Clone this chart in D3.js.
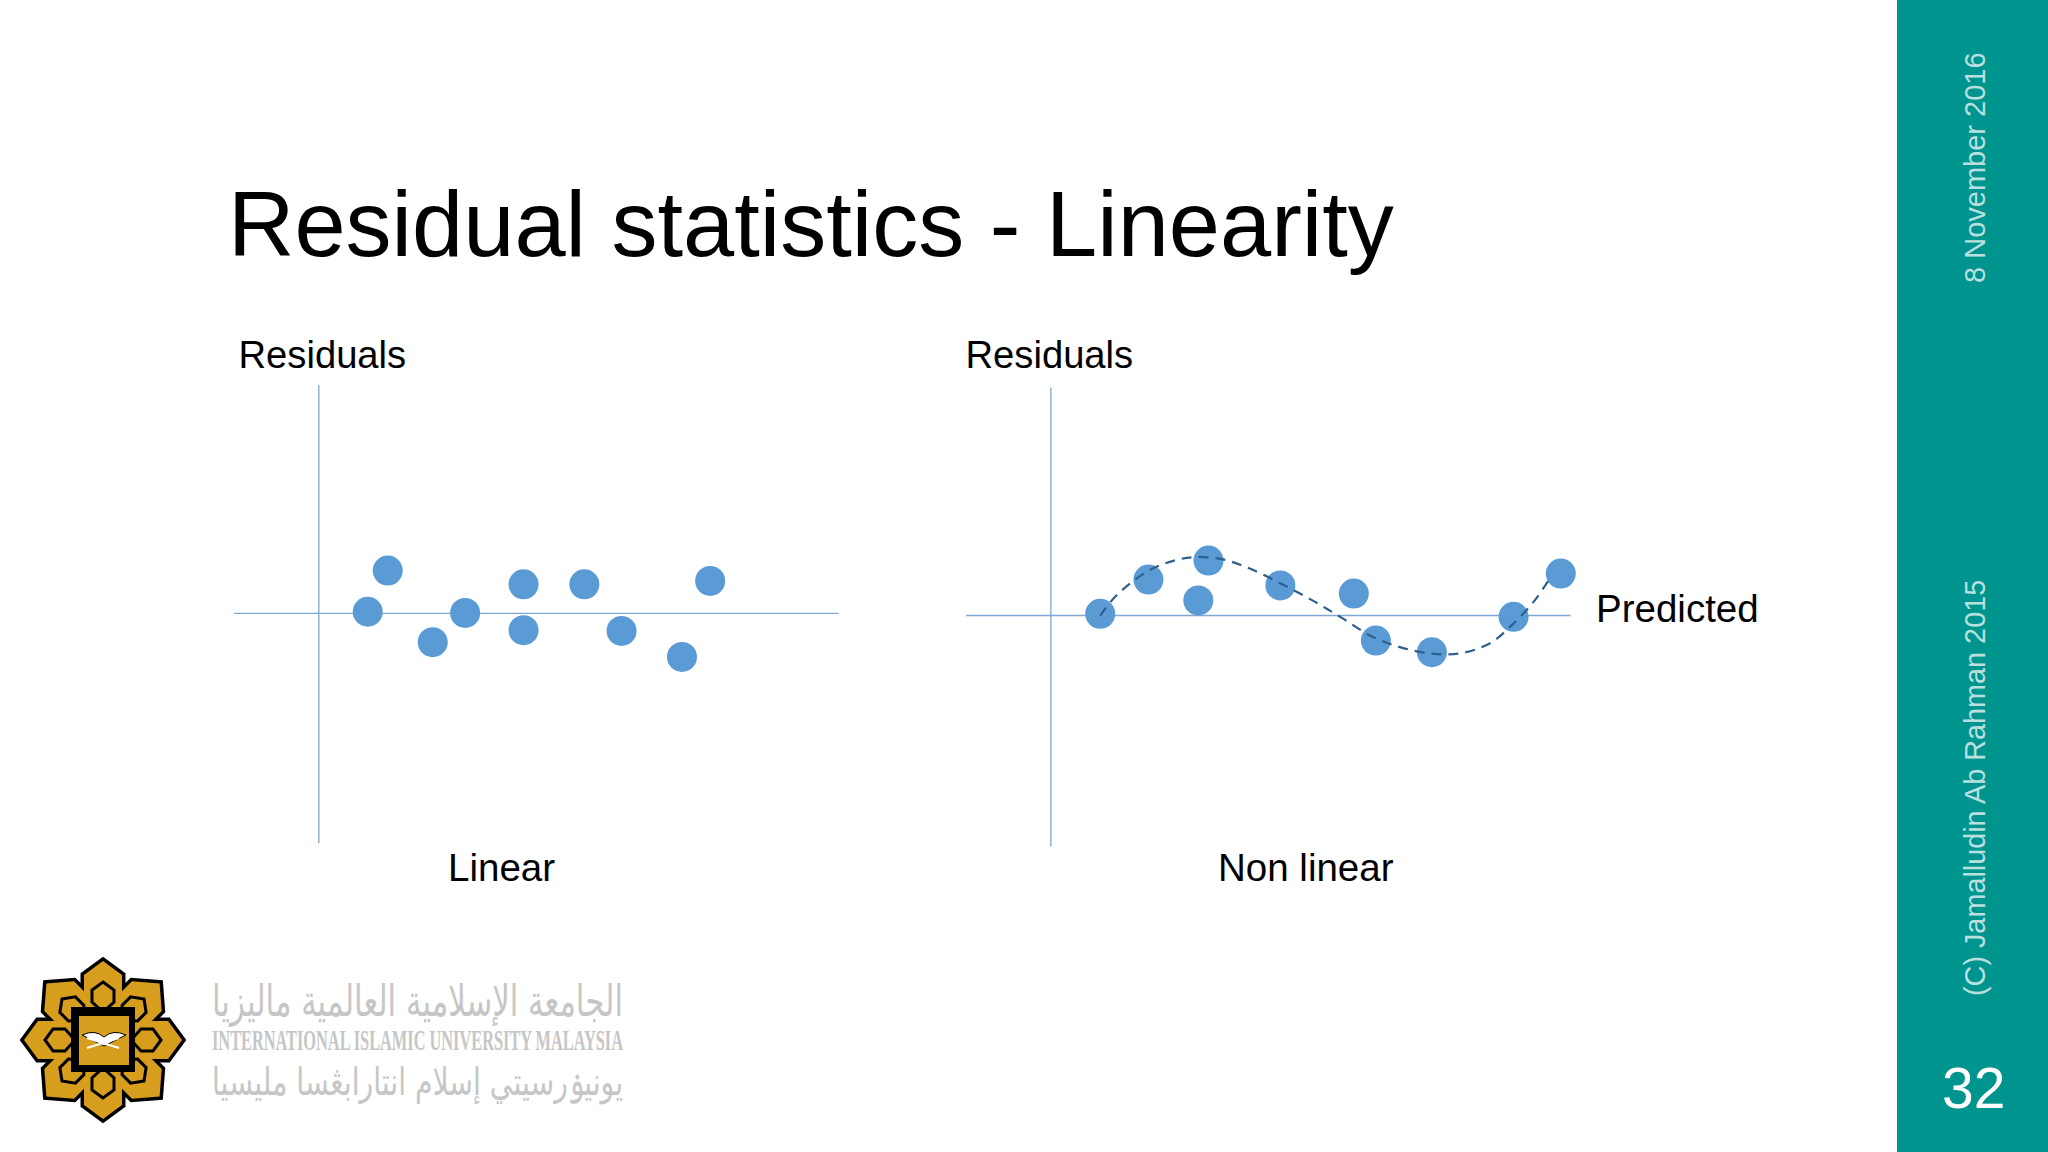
<!DOCTYPE html>
<html><head><meta charset="utf-8">
<script src="https://cdnjs.cloudflare.com/ajax/libs/d3/7.8.5/d3.min.js"></script>
<style>html,body{margin:0;padding:0;background:#fff}svg{display:block}text{font-family:"Liberation Sans",Arial,sans-serif}</style>
</head><body><svg id="c" width="2048" height="1152"></svg>
<script>
const linearX=[17.35,12.35,28.6,36.7,51.3,51.3,66.5,75.8,90.9,97.95];
const linearY=[10.6,0.3,-7.3,0,7.15,-4.3,7.15,-4.5,-11,8];
const nonLinearX=[12.45,24.5,36.95,39.5,57.45,75.8,81.3,95.3,115.7,127.5];
const nonLinearY=[0.3,8.85,3.65,13.6,7.4,5.35,-6.4,-9.3,-0.45,10.35];
const curveX=[12.45,16.3,24.4,31.1,36.4,43.1,49.8,57.9,65.9,72.6,80.6,88.6,96.7,103.4,110.1,115.4,120.8,124.8];
const curveY=[-0.2,4.7,11,13.65,14.5,13.9,11.6,7.7,3.4,-0.6,-5.5,-8.4,-9.8,-9.4,-6.9,-2.4,3.4,9.2];
const titleText="Residual statistics - Linearity";
const yLabel="Residuals", xLabelRight="Predicted", panelNames=["Linear","Non linear"];
const dateText="8 November 2016", copyText="(C) Jamalludin Ab Rahman 2015", pageText="32";

const svg=d3.select("#c");
svg.append("rect").attr("x",1897).attr("y",0).attr("width",151).attr("height",1152).attr("fill","#00948f");
const label=(t,x,y,s,a)=>svg.append("text").text(t).attr("x",x).attr("y",y).attr("font-size",s).attr("text-anchor",a||"start").attr("fill","#000");
label(titleText,228,256,92);
label(yLabel,238.5,368,38.2);
label(yLabel,965.5,368,38.2);
label(xLabelRight,1596,622,38.5);
label(panelNames[0],448,881,38.5);
label(panelNames[1],1218,881,38.5);

function panel(xs,ys,xd,xr,yd,yr){
  const x=d3.scaleLinear().domain(xd).range(xr), y=d3.scaleLinear().domain(yd).range(yr);
  const g=svg.append("g");
  g.append("g").attr("transform",`translate(0,${y(0)})`).call(d3.axisBottom(x).tickValues([]).tickSizeOuter(0));
  g.append("g").attr("transform",`translate(${x(0)},0)`).call(d3.axisLeft(y).tickValues([]).tickSizeOuter(0));
  g.selectAll(".domain").attr("stroke","#7fa8d4").attr("stroke-width",1.3);
  g.selectAll("circle").data(xs).join("circle").attr("cx",d=>x(d)).attr("cy",(d,i)=>y(ys[i])).attr("r",15).attr("fill","#5b9bd5");
  return {x,y,g};
}
panel(linearX,linearY,[-21.2,129.9],[233.5,838],[57.1,-57.4],[384.6,842.5]);
const r=panel(nonLinearX,nonLinearY,[-21.2,129.8],[965.5,1570],[57,-57.75],[387,846]);
r.g.append("path").datum(curveX.map((d,i)=>[d,curveY[i]]))
  .attr("d",d3.line().x(d=>r.x(d[0])).y(d=>r.y(d[1])).curve(d3.curveCatmullRom))
  .attr("fill","none").attr("stroke","#2f5f8c").attr("stroke-width",2.2).attr("stroke-dasharray","10 7");

// sidebar
const side=(t,xp,yp,s)=>svg.append("text").text(t).attr("transform",`translate(${xp},${yp}) rotate(-90)`).attr("font-size",s).attr("fill","#b9e0df");
side(dateText,1985,283,29);
side(copyText,1985,996,28.8);
svg.append("text").text(pageText).attr("x",1942).attr("y",1108).attr("font-size",57).attr("fill","#fff");

// logo emblem
const logo=svg.append("g").attr("transform","translate(103,1040)");
const cardinal="M0,-79L19,-65L19,-40L0,-18L-19,-40L-19,-65Z", diagonal="M0,-80L21,-62L21,-36L0,-18L-21,-36L-21,-62Z";
const ang=d3.range(8).map(i=>i*45);
logo.selectAll("path.o").data(ang).join("path").attr("class","o").attr("d",d=>d%90?diagonal:cardinal).attr("transform",d=>`rotate(${d})`).attr("fill","#000").attr("stroke","#000").attr("stroke-width",7).attr("stroke-linejoin","miter");
logo.selectAll("path.g").data(ang).join("path").attr("class","g").attr("d",d=>d%90?diagonal:cardinal).attr("transform",d=>`rotate(${d})`).attr("fill","#d69e1c");
logo.selectAll("path.i").data(ang).join("path").attr("class","i").attr("d","M0,-58L11,-50L11,-38L0,-28L-11,-38L-11,-50Z").attr("transform",d=>`rotate(${d})`).attr("fill","#d69e1c").attr("stroke","#000").attr("stroke-width",3);
logo.append("rect").attr("x",-32).attr("y",-33).attr("width",64).attr("height",65).attr("fill","#000");
logo.append("rect").attr("x",-24).attr("y",-24).attr("width",50).attr("height",49).attr("fill","#d69e1c");
logo.append("path").attr("d","M-21,-5Q-8,-11 1,-3Q10,-11 23,-5L1,6Z").attr("fill","#fff").attr("stroke","#000").attr("stroke-width",1);
logo.append("path").attr("d","M-16,8L16,-2M-16,-2L16,8").attr("stroke","#fff").attr("stroke-width",2);

// logo wordmark
const wm=(t,y,s,f,w)=>svg.append("text").text(t).attr("x",212).attr("y",y).attr("font-size",s).style("font-family",f).attr("font-weight",w||"normal").attr("fill","#c6c6c6").attr("textLength",411).attr("lengthAdjust","spacingAndGlyphs");
wm("الجامعة الإسلامية العالمية ماليزيا",1016,44,"DejaVu Sans");
wm("INTERNATIONAL ISLAMIC UNIVERSITY MALAYSIA",1050,29,"Liberation Serif","bold");
wm("يونيۏرسيتي إسلام انتارابڠسا مليسيا",1095,38,"DejaVu Sans");
</script></body></html>
